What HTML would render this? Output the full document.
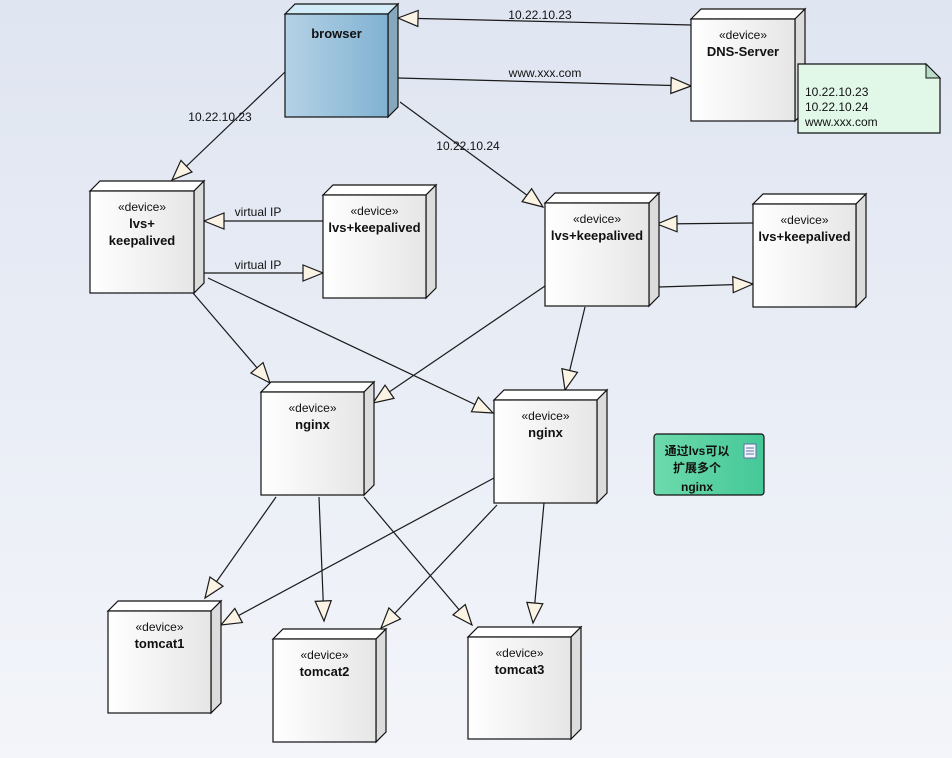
<!DOCTYPE html>
<html><head><meta charset="utf-8">
<style>
html,body{margin:0;padding:0;width:952px;height:758px;overflow:hidden}
body{background:linear-gradient(#dfe5f1,#f3f5fa);font-family:"Liberation Sans","Noto Sans CJK SC",sans-serif}
</style></head><body>
<svg id="s" width="952" height="758" xmlns="http://www.w3.org/2000/svg" font-family="Liberation Sans, Noto Sans CJK SC, sans-serif">
<defs>
<linearGradient id="wg" x1="0" x2="1"><stop offset="0" stop-color="#ffffff"/><stop offset="1" stop-color="#e6e6e6"/></linearGradient>
<linearGradient id="bg" x1="0" x2="1"><stop offset="0" stop-color="#b5d2e6"/><stop offset="1" stop-color="#80b2d2"/></linearGradient>
<linearGradient id="gg" x1="0" x2="1"><stop offset="0" stop-color="#6ddaac"/><stop offset="1" stop-color="#45c898"/></linearGradient>
</defs>
<g id="edges" stroke="#1a1a1a" stroke-width="1.2" fill="none"></g>
<g id="nodes"></g>
<g id="labels" font-size="12" fill="#111"></g>
</svg>
<script>
var NS="http://www.w3.org/2000/svg";
function el(t,a,p,txt){var e=document.createElementNS(NS,t);for(var k in a)e.setAttribute(k,a[k]);if(txt!=null)e.textContent=txt;document.getElementById(p).appendChild(e);return e;}
var D=10;
function box(x1,y1,x2,y2,lines,blue){
  var g="nodes";
  el("polygon",{points:[x1,y1,x1+D,y1-D,x2+D,y1-D,x2,y1].join(" "),fill:blue?"#d2ecf8":"#fff",stroke:"#111","stroke-width":1.2},g);
  el("polygon",{points:[x2,y1,x2+D,y1-D,x2+D,y2-D,x2,y2].join(" "),fill:blue?"#86a8bd":"#dcdcdc",stroke:"#111","stroke-width":1.2},g);
  el("rect",{x:x1,y:y1,width:x2-x1,height:y2-y1,fill:blue?"url(#bg)":"url(#wg)",stroke:"#111","stroke-width":1.2},g);
  var cx=(x1+x2)/2;
  lines.forEach(function(l,i){
    el("text",{x:cx,y:y1+(l[2]||0)+20+i*17,"text-anchor":"middle","font-size":l[1]?13:12,"font-weight":l[1]?"bold":"normal",fill:"#111"},g,l[0]);
  });
}
box(285,14,388,117,[["browser",1,4]],true);
box(691,19,795,121,[["«device»"],["DNS-Server",1]]);
box(90,191,194,293,[["«device»"],["lvs+",1],["keepalived",1]]);
box(323,195,426,298,[["«device»"],["lvs+keepalived",1]]);
box(545,203,649,306,[["«device»"],["lvs+keepalived",1]]);
box(753,204,856,307,[["«device»"],["lvs+keepalived",1]]);
box(261,392,364,495,[["«device»"],["nginx",1]]);
box(494,400,597,503,[["«device»"],["nginx",1]]);
box(108,611,211,713,[["«device»"],["tomcat1",1]]);
box(273,639,376,742,[["«device»"],["tomcat2",1]]);
box(468,637,571,739,[["«device»"],["tomcat3",1]]);
el("polygon",{points:"798,64 926,64 940,78 940,133 798,133",fill:"#e1f8e8",stroke:"#111","stroke-width":1.2},"nodes");
el("polygon",{points:"926,64 940,78 926,78",fill:"#b8dcc8",stroke:"#111","stroke-width":1},"nodes");
["10.22.10.23","10.22.10.24","www.xxx.com"].forEach(function(t,i){el("text",{x:805,y:96+i*15,"font-size":12,fill:"#111"},"nodes",t);});
el("rect",{x:654,y:434,width:110,height:61,rx:3,fill:"url(#gg)",stroke:"#111","stroke-width":1.2},"nodes");
[["通过lvs可以",697,455],["扩展多个",697,472],["nginx",697,491]].forEach(function(t){el("text",{x:t[1],y:t[2],"text-anchor":"middle","font-size":12,"font-weight":"bold",fill:"#111"},"nodes",t[0]);});
el("rect",{x:744,y:444,width:12,height:14,fill:"#f4f6fb",stroke:"#5b6fa8","stroke-width":1},"nodes");
el("path",{d:"M746 448h8M746 451h8M746 454h8",stroke:"#5b6fa8","stroke-width":1},"nodes");
function edge(x1,y1,x2,y2){
  el("line",{x1:x1,y1:y1,x2:x2,y2:y2},"edges");
  var dx=x2-x1,dy=y2-y1,L=Math.sqrt(dx*dx+dy*dy),ux=dx/L,uy=dy/L,bl=20,hw=8;
  var bx=x2-ux*bl,by=y2-uy*bl;
  el("polygon",{points:[x2,y2,bx-uy*hw,by+ux*hw,bx+uy*hw,by-ux*hw].join(" "),fill:"#fbf3e4",stroke:"#1a1a1a","stroke-width":1.2},"edges");
}
edge(691,25,398,18);
edge(398,78,691,86);
edge(285,72,172,180);
edge(400,102,543,207);
edge(323,221,204,221);
edge(204,273,323,273);
edge(753,223,657,224);
edge(659,287,753,284);
edge(193,293,270,383);
edge(208,278,493,413);
edge(545,286,373,403);
edge(585,307,565,390);
edge(276,497,205,598);
edge(319,497,324,621);
edge(364,497,472,625);
edge(494,478,221,625);
edge(497,505,381,628);
edge(544,503,533,623);
function lab(x,y,t){el("text",{x:x,y:y,"text-anchor":"middle"},"labels",t);}
lab(540,19,"10.22.10.23");
lab(545,77,"www.xxx.com");
lab(220,121,"10.22.10.23");
lab(468,150,"10.22.10.24");
lab(258,216,"virtual IP");
lab(258,269,"virtual IP");
</script>
</body></html>
